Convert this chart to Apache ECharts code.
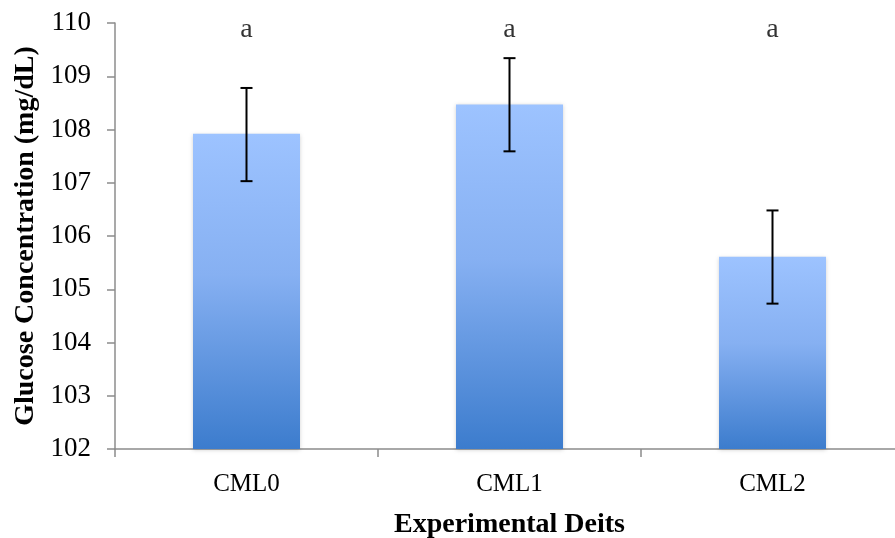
<!DOCTYPE html>
<html>
<head>
<meta charset="utf-8">
<script src="https://cdn.jsdelivr.net/npm/echarts@6/dist/echarts.min.js"></script>
<style>html,body{margin:0;padding:0;background:#fff}#c{width:895px;height:538px}</style>
</head>
<body>
<div id="c"></div>
<script>
const categories = ['CML0', 'CML1', 'CML2'];
const means = [107.92, 108.47, 105.61];
const errLower = [107.03, 107.59, 104.73];
const errUpper = [108.78, 109.34, 106.48];
const letters = ['a', 'a', 'a'];
const letterLevel = [109.88, 109.88, 109.88];
const yTicks = [102, 103, 104, 105, 106, 107, 108, 109, 110];

const chart = echarts.init(document.getElementById('c'), null, {renderer: 'canvas'});
const serif = '"Liberation Serif", "DejaVu Serif", serif';
chart.setOption({
  animation: false,
  grid: {left: 115, top: 23, width: 789, height: 426, containLabel: false, outerBoundsMode: 'none'},
  xAxis: {
    type: 'category',
    data: categories,
    axisLine: {lineStyle: {color: '#8c8c8c', width: 1.5}},
    axisTick: {show: true, length: 8, alignWithLabel: false, lineStyle: {color: '#8c8c8c', width: 1.5}},
    axisLabel: {color: '#000', fontFamily: serif, fontSize: 25, margin: 23},
    name: 'Experimental Deits',
    nameLocation: 'middle',
    nameGap: 62,
    nameTextStyle: {color: '#000', fontFamily: serif, fontWeight: 'bold', fontSize: 28}
  },
  yAxis: {
    type: 'value',
    min: yTicks[0],
    max: yTicks[yTicks.length - 1],
    interval: 1,
    axisLine: {show: true, lineStyle: {color: '#8c8c8c', width: 1.5}},
    axisTick: {show: true, length: 8, lineStyle: {color: '#8c8c8c', width: 1.5}},
    splitLine: {show: false},
    axisLabel: {color: '#000', fontFamily: serif, fontSize: 27, margin: 24},
    name: 'Glucose Concentration (mg/dL)',
    nameLocation: 'middle',
    nameGap: 73,
    nameTextStyle: {color: '#000', fontFamily: serif, fontWeight: 'bold', fontSize: 28}
  },
  series: [
    {
      type: 'bar',
      data: means,
      barWidth: 107,
      itemStyle: {
        color: new echarts.graphic.LinearGradient(0, 0, 0, 1, [
          {offset: 0, color: '#9dc3ff'},
          {offset: 0.45, color: '#86b0f2'},
          {offset: 1, color: '#3c7ccd'}
        ]),
        shadowColor: 'rgba(0,0,0,0.18)',
        shadowBlur: 4,
        shadowOffsetY: 1
      },
      z: 2
    },
    {
      type: 'custom',
      data: categories.map((c, i) => [i, errLower[i], errUpper[i]]),
      z: 5,
      renderItem: function (params, api) {
        const x = api.value(0);
        const lo = api.coord([x, api.value(1)]);
        const hi = api.coord([x, api.value(2)]);
        const cap = 6;
        const style = {stroke: '#000', lineWidth: 2};
        return {
          type: 'group',
          children: [
            {type: 'line', shape: {x1: hi[0], y1: hi[1], x2: lo[0], y2: lo[1]}, style: style},
            {type: 'line', shape: {x1: hi[0] - cap, y1: hi[1], x2: hi[0] + cap, y2: hi[1]}, style: style},
            {type: 'line', shape: {x1: lo[0] - cap, y1: lo[1], x2: lo[0] + cap, y2: lo[1]}, style: style}
          ]
        };
      }
    },
    {
      type: 'scatter',
      data: letterLevel.map((v, i) => [i, v]),
      symbolSize: 0,
      z: 6,
      label: {
        show: true,
        position: 'inside',
        formatter: p => letters[p.dataIndex],
        color: '#000',
        fontFamily: serif,
        fontSize: 28
      }
    }
  ]
});
</script>
</body>
</html>
